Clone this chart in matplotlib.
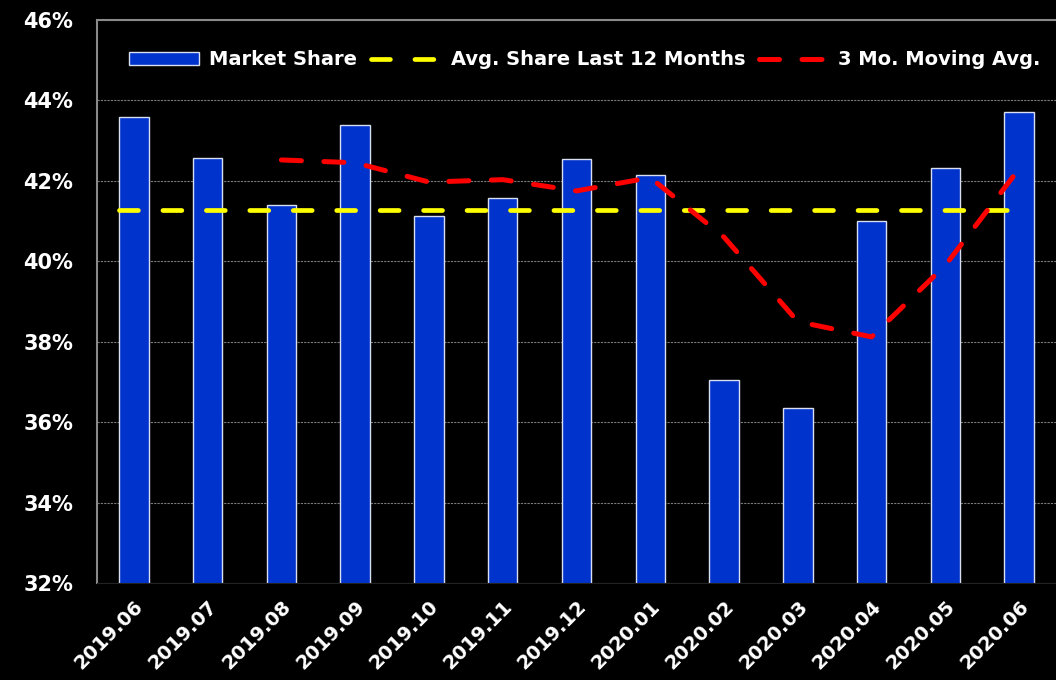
import matplotlib.pyplot as plt
import numpy as np

months = ['2019.06', '2019.07', '2019.08', '2019.09', '2019.10', '2019.11', '2019.12',
          '2020.01', '2020.02', '2020.03', '2020.04', '2020.05', '2020.06']
share = [43.60, 42.57, 41.40, 43.38, 41.13, 41.58, 42.55,
         42.15, 37.05, 36.35, 41.00, 42.31, 43.72]
# 3 month moving avg, starts at 2019.08
ma_months = months[2:]
ma_vals = [42.52, 42.45, 41.97, 42.03, 41.75, 42.08, 40.60, 38.50, 38.12, 39.90, 42.30]
avg_12 = 41.27

fig = plt.figure(figsize=(10.56, 6.8), dpi=100, facecolor='black')
ax = fig.add_axes([97/1056, 97/680, 959/1056, 563/680], facecolor='black')

x = np.arange(len(months))
bars = ax.bar(x, share, width=0.4, color='#0033cc', edgecolor='#d8dff0',
              linewidth=1, label='Market Share', zorder=2)
avg_line, = ax.plot([-0.2, 11.9], [avg_12, avg_12], color='#ffff00', lw=3.4,
                    ls=(0, (4, 5.2)), dash_capstyle='round',
                    label='Avg. Share Last 12 Months', zorder=3)
ma_x = [months.index(m) for m in ma_months]
ma_line, = ax.plot(ma_x, ma_vals, color='#ff0000', lw=3.6, ls=(0, (4, 4.5)),
                   dash_capstyle='round', label='3 Mo. Moving Avg.', zorder=4)

ax.set_ylim(32, 46)
ax.set_xlim(-0.5, 12.5)
ax.set_yticks(np.arange(32, 47, 2))
ax.set_yticklabels([f'{v}%' for v in range(32, 47, 2)])
ax.set_xticks(x)
ax.set_xticklabels(months, rotation=45, ha='right', rotation_mode='anchor')

ax.grid(axis='y', color='#7a7a7a', ls=(0, (2, 1)), lw=0.8, zorder=0)
ax.tick_params(axis='y', length=0, pad=17, labelsize=15, labelcolor='white')
ax.tick_params(axis='x', length=0, pad=10, labelsize=14, labelcolor='white')
for lab in ax.get_xticklabels() + ax.get_yticklabels():
    lab.set_fontweight('bold')

for s in ['left', 'top']:
    ax.spines[s].set_color('#8a8a8a')
    ax.spines[s].set_linewidth(1.5)
ax.spines['right'].set_visible(False)
ax.spines['bottom'].set_color('#222222')

leg = ax.legend([bars, avg_line, ma_line],
                ['Market Share', 'Avg. Share Last 12 Months', '3 Mo. Moving Avg.'],
                loc='center', bbox_to_anchor=(0.509, 0.929), ncol=3, frameon=False,
                handlelength=3.6, handleheight=0.7, handletextpad=0.5,
                columnspacing=0.7, prop={'weight': 'bold', 'size': 14})
for t in leg.get_texts():
    t.set_color('white')

fig.savefig('out.png', dpi=100, facecolor='black')
